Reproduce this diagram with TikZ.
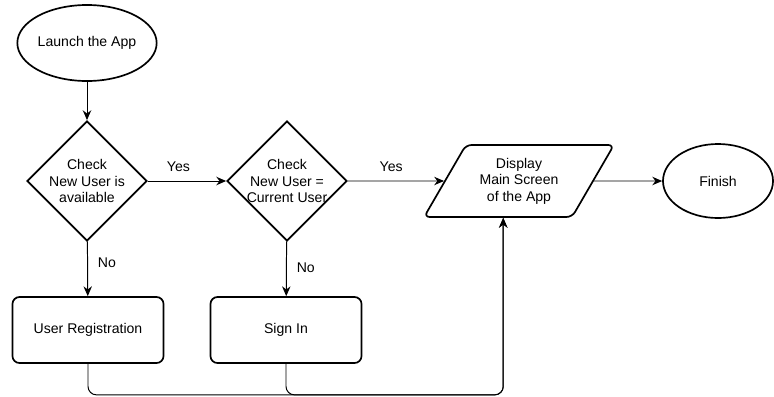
\documentclass[tikz,border=0pt]{standalone}
\usepackage{fontspec}
\setmainfont{Liberation Sans}
\usetikzlibrary{arrows.meta, shapes.geometric}
\tikzset{
  every picture/.style={font=\fontsize{10}{11.8}\selectfont, >=Stealth},
  term/.style={ellipse, draw, line width=1.2pt, inner sep=0pt,
               minimum width=3cm, minimum height=1.9cm},
  decision/.style={diamond, draw, line width=1.2pt, inner sep=0pt,
               minimum width=3cm, minimum height=3cm},
  process/.style={rectangle, draw, line width=1.2pt, rounded corners=5pt,
               minimum width=3.775cm, minimum height=1.65cm},
  io/.style={trapezium, trapezium left angle=58, trapezium right angle=122,
             trapezium stretches=true, draw, line width=1.2pt, rounded corners=4pt,
             minimum width=4.75cm, minimum height=1.8cm, align=center},
  flow/.style={-{Stealth[length=7pt, width=6pt]}, line width=0.7pt},
  lbl/.style={inner sep=0pt},
}
\begin{document}
\begin{tikzpicture}[x=0.025cm, y=-0.025cm]
  \useasboundingbox (0,0) rectangle (774,396);
  \node[term] (launch) at (87,43) {Launch the App};
  \node[decision, label={[align=center]center:Check\\New User is\\available}] (chk1) at (87,181) {};
  \node[decision, label={[align=center]center:Check\\New User =\\Current User}] (chk2) at (287,181) {};
  \node[io] (disp) at (519,181) {Display\\Main Screen\\of the App};
  \node[term, minimum width=2.75cm, minimum height=1.85cm] (finish) at (718,181) {Finish};
  \node[process] (reg) at (88,330) {User Registration};
  \node[process] (sign) at (286,330) {Sign In};
  % main line
  \draw[flow] (launch) -- (chk1);
  \draw[flow] (chk1) -- node[lbl, pos=0.39, above=6pt] {Yes} (chk2);
  \draw[flow] (chk2) -- node[lbl, pos=0.45, above=6pt] {Yes} (disp);
  \draw[flow] (disp) -- (finish);
  % no branches
  \draw[flow] (chk1) -- node[lbl, pos=0.39, right=7pt] {No} (reg);
  \draw[flow] (chk2) -- node[lbl, pos=0.48, right=7pt] {No} (sign);
  % back to display
  \foreach \n in {reg,sign}
    \draw[flow, rounded corners=6pt] (\n.south) -- ++(0,31) -| ([xshift=4]disp.bottom side);
\end{tikzpicture}
\end{document}
